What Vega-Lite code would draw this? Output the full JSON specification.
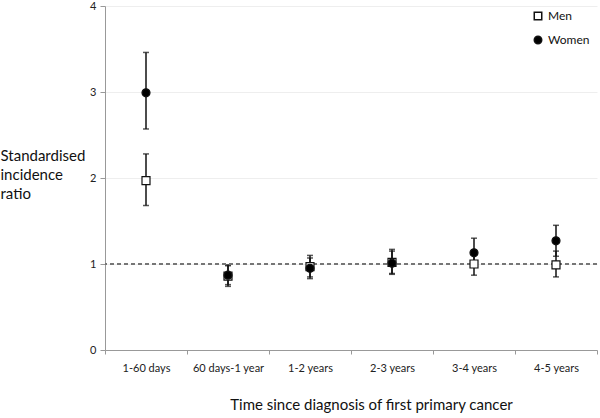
{
  "$schema": "https://vega.github.io/schema/vega-lite/v6.json",
  "width": 492,
  "height": 344,
  "autosize": "none",
  "padding": {"left": 105, "top": 6, "right": 3, "bottom": 68},
  "background": "white",
  "config": {
    "view": {"stroke": null},
    "font": "Lato",
    "axis": {"labelFont": "Lato", "titleFont": "Lato", "labelColor": "#222", "titleColor": "#111", "titleFontWeight": "normal", "domainColor": "#999", "tickColor": "#999"},
    "legend": {"orient": "none", "legendX": 427, "legendY": 4, "labelFontSize": 12, "labelColor": "#111", "rowPadding": 10, "labelOffset": 4, "labelFont": "Lato", "symbolSize": 56}
  },
  "data": {
    "values": [
      {"period": "1-60 days", "sex": "Men", "sir": 1.97, "lo": 1.68, "hi": 2.28},
      {"period": "1-60 days", "sex": "Women", "sir": 2.99, "lo": 2.57, "hi": 3.46},
      {"period": "60 days-1 year", "sex": "Men", "sir": 0.86, "lo": 0.74, "hi": 0.99},
      {"period": "60 days-1 year", "sex": "Women", "sir": 0.87, "lo": 0.76, "hi": 0.98},
      {"period": "1-2 years", "sex": "Men", "sir": 0.97, "lo": 0.85, "hi": 1.10},
      {"period": "1-2 years", "sex": "Women", "sir": 0.95, "lo": 0.83, "hi": 1.07},
      {"period": "2-3 years", "sex": "Men", "sir": 1.02, "lo": 0.89, "hi": 1.17},
      {"period": "2-3 years", "sex": "Women", "sir": 1.01, "lo": 0.88, "hi": 1.15},
      {"period": "3-4 years", "sex": "Men", "sir": 1.00, "lo": 0.87, "hi": 1.14},
      {"period": "3-4 years", "sex": "Women", "sir": 1.13, "lo": 0.97, "hi": 1.30},
      {"period": "4-5 years", "sex": "Men", "sir": 0.99, "lo": 0.85, "hi": 1.15},
      {"period": "4-5 years", "sex": "Women", "sir": 1.27, "lo": 1.09, "hi": 1.45}
    ]
  },
  "encoding": {
    "x": {
      "field": "period", "type": "nominal", "sort": null,
      "scale": {"paddingInner": 0, "paddingOuter": 0},
      "axis": {
        "title": "Time since diagnosis of first primary cancer",
        "titleFontSize": 15, "titleX": 266, "titleY": 59, "titleBaseline": "alphabetic", "titleAnchor": "middle", "titleAlign": "center",
        "labelAngle": 0, "labelFontSize": 11, "labelPadding": 8,
        "tickBand": "extent", "tickSize": 4, "grid": false
      }
    }
  },
  "layer": [
    {
      "mark": {"type": "rule", "color": "#111", "strokeWidth": 1.5},
      "encoding": {
        "y": {"field": "lo", "type": "quantitative", "scale": {"domain": [0, 4]},
          "axis": {
            "title": ["Standardised", "incidence", "ratio"],
            "titleAngle": 0, "titleAlign": "left", "titleBaseline": "alphabetic",
            "titleX": -105, "titleY": 154, "titleLineHeight": 19, "titleFontSize": 15,
            "values": [0, 1, 2, 3, 4], "format": "d", "labelFontSize": 11, "labelPadding": 4, "tickSize": 5,
            "grid": true, "gridColor": "#eeeeee"
          }
        },
        "y2": {"field": "hi"}
      }
    },
    {
      "mark": {"type": "tick", "color": "#111", "thickness": 1.5, "size": 6, "orient": "horizontal"},
      "encoding": {"y": {"field": "lo", "type": "quantitative"}}
    },
    {
      "mark": {"type": "tick", "color": "#111", "thickness": 1.5, "size": 6, "orient": "horizontal"},
      "encoding": {"y": {"field": "hi", "type": "quantitative"}}
    },
    {
      "mark": {"type": "rule", "color": "#777", "strokeWidth": 1.5, "strokeDash": [4, 3]},
      "encoding": {"x": null, "y": {"datum": 1, "type": "quantitative"}}
    },
    {
      "mark": {"type": "point", "opacity": 1, "stroke": "#111", "strokeWidth": 1.2, "size": 64},
      "encoding": {
        "y": {"field": "sir", "type": "quantitative"},
        "shape": {"field": "sex", "type": "nominal", "scale": {"domain": ["Men", "Women"], "range": ["square", "circle"]}, "legend": {"title": null}},
        "fill": {"field": "sex", "type": "nominal", "scale": {"domain": ["Men", "Women"], "range": ["white", "black"]}, "legend": {"title": null}}
      }
    }
  ]
}
